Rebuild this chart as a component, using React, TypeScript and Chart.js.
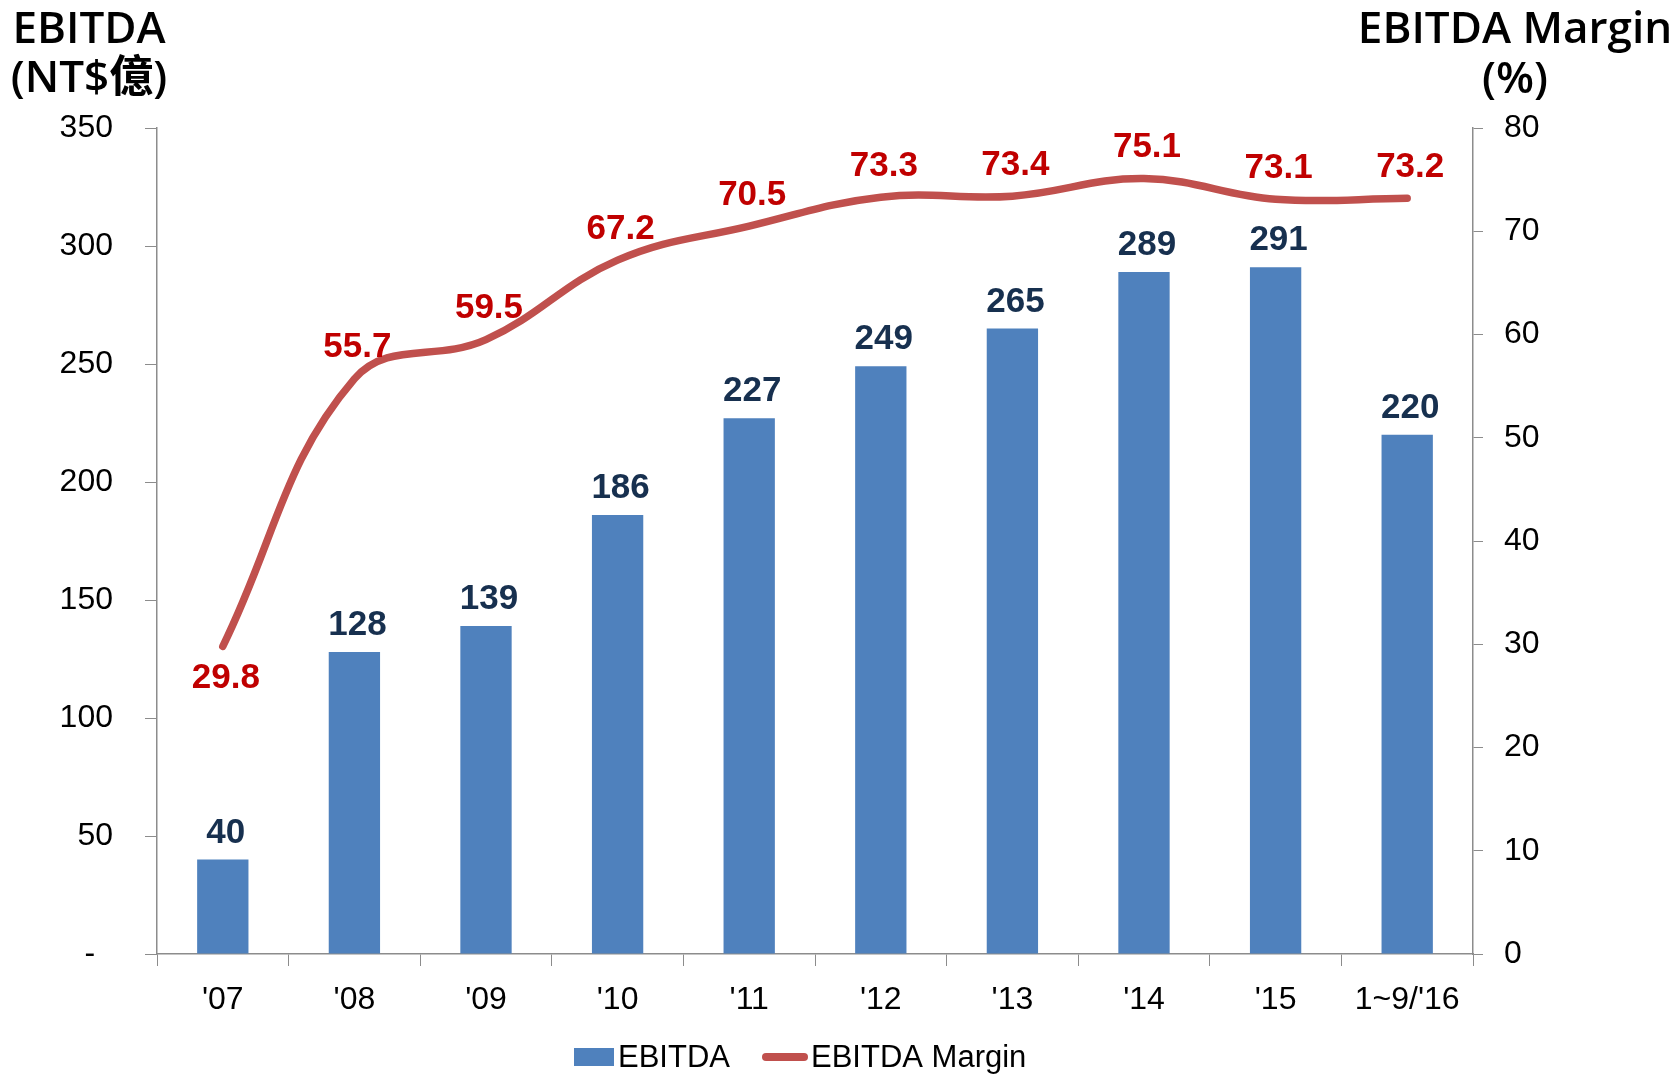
import React, { useEffect, useRef } from "react";
import { Chart, registerables } from "chart.js";

Chart.register(...registerables);

const categories = ["'07", "'08", "'09", "'10", "'11", "'12", "'13", "'14", "'15", "1~9/'16"];
const ebitda = [40, 128, 139, 186, 227, 249, 265, 289, 291, 220];
const margin = [29.8, 55.7, 59.5, 67.2, 70.5, 73.3, 73.4, 75.1, 73.1, 73.2];
const leftTicks = [0, 50, 100, 150, 200, 250, 300, 350];
const rightTicks = [0, 10, 20, 30, 40, 50, 60, 70, 80];

const W = 1678;
const H = 1077;
const TICK_FONT = "'Liberation Sans', Arial, sans-serif";
const TITLE_FONT = "'Open Sans', 'Noto Sans', 'Noto Sans CJK TC', sans-serif";
const AXIS_COLOR = "#8c8c8c";
const BAR_COLOR = "#4F81BD";
const LINE_COLOR = "#C0504D";

const labelsPlugin = {
  id: "customLabels",
  afterDatasetsDraw(chart: any) {
    const ctx = chart.ctx;
    ctx.save();
    ctx.textAlign = "center";
    ctx.textBaseline = "alphabetic";
    ctx.font = `bold 35px ${TICK_FONT}`;
    const barMeta = chart.getDatasetMeta(0);
    ctx.fillStyle = "#17304F";
    barMeta.data.forEach((el: any, i: number) => {
      ctx.fillText(String(ebitda[i]), el.x + 3, el.y - 17);
    });
    const lineMeta = chart.getDatasetMeta(1);
    ctx.fillStyle = "#C00000";
    lineMeta.data.forEach((el: any, i: number) => {
      const y = i === 0 ? el.y + 42 : el.y - 21.5;
      ctx.fillText(margin[i].toFixed(1), el.x + 3, y);
    });
    ctx.restore();
  },
  afterDraw(chart: any) {
    const ctx = chart.ctx;
    ctx.save();
    // axis titles
    ctx.fillStyle = "#000";
    ctx.textAlign = "center";
    ctx.textBaseline = "alphabetic";
    ctx.font = `600 44px ${TITLE_FONT}`;
    ctx.fillText("EBITDA", 89, 43);
    ctx.fillText("(NT$億)", 89, 92);
    ctx.fillText("EBITDA Margin", 1515, 43);
    ctx.fillText("(%)", 1515, 93);
    // legend
    ctx.font = `31px ${TICK_FONT}`;
    ctx.textAlign = "left";
    ctx.fillStyle = BAR_COLOR;
    ctx.fillRect(574, 1048, 40, 18);
    ctx.fillStyle = "#000";
    ctx.fillText("EBITDA", 618, 1067);
    ctx.strokeStyle = LINE_COLOR;
    ctx.lineWidth = 8;
    ctx.lineCap = "round";
    ctx.beginPath();
    ctx.moveTo(766, 1057);
    ctx.lineTo(804, 1057);
    ctx.stroke();
    ctx.fillStyle = "#000";
    ctx.fillText("EBITDA Margin", 811, 1067);
    ctx.restore();
  },
};

export default function App() {
  const ref = useRef<HTMLCanvasElement | null>(null);

  useEffect(() => {
    if (!ref.current) return;
    const chart = new Chart(ref.current, {
      type: "bar",
      data: {
        labels: categories,
        datasets: [
          {
            type: "bar",
            label: "EBITDA",
            data: ebitda,
            yAxisID: "y",
            backgroundColor: BAR_COLOR,
            barPercentage: 0.39,
            categoryPercentage: 1,
            order: 1,
          },
          {
            type: "line",
            label: "EBITDA Margin",
            data: margin,
            yAxisID: "y1",
            borderColor: LINE_COLOR,
            backgroundColor: LINE_COLOR,
            borderWidth: 7.5,
            pointRadius: 0,
            tension: 0.4,
            borderCapStyle: "round",
            borderJoinStyle: "round",
            order: 0,
          },
        ] as any,
      },
      options: {
        responsive: false,
        animation: false,
        devicePixelRatio: 1,
        layout: { padding: { top: 128, left: 0, right: 0, bottom: 0 } },
        plugins: {
          legend: { display: false },
          tooltip: { enabled: false },
          title: { display: false },
        },
        scales: {
          x: {
            type: "category",
            grid: {
              offset: true,
              drawOnChartArea: false,
              drawTicks: true,
              tickLength: 12,
              color: AXIS_COLOR,
            },
            border: { color: AXIS_COLOR, width: 1.5 },
            ticks: {
              color: "#000",
              font: { family: TICK_FONT, size: 32 },
              padding: 15,
              maxRotation: 0,
              autoSkip: false,
            },
            afterFit: (s: any) => {
              s.height = 123;
            },
          },
          y: {
            position: "left",
            min: 0,
            max: 350,
            afterBuildTicks: (s: any) => {
              s.ticks = leftTicks.map((v) => ({ value: v }));
            },
            grid: {
              drawOnChartArea: false,
              drawTicks: true,
              tickLength: 12,
              color: AXIS_COLOR,
            },
            border: { color: AXIS_COLOR, width: 1.5 },
            ticks: {
              color: "#000",
              font: { family: TICK_FONT, size: 32 },
              padding: 32,
              callback: (v: any) => (Number(v) === 0 ? "-  " : String(v)),
            },
            afterFit: (s: any) => {
              s.width = 157;
            },
          },
          y1: {
            position: "right",
            min: 0,
            max: 80,
            afterBuildTicks: (s: any) => {
              s.ticks = rightTicks.map((v) => ({ value: v }));
            },
            grid: {
              drawOnChartArea: false,
              drawTicks: true,
              tickLength: 10,
              color: AXIS_COLOR,
            },
            border: { color: AXIS_COLOR, width: 1.5 },
            ticks: {
              color: "#000",
              font: { family: TICK_FONT, size: 32 },
              padding: 21,
            },
            afterFit: (s: any) => {
              s.width = W - 1473;
            },
          },
        },
      } as any,
      plugins: [labelsPlugin],
    });
    return () => chart.destroy();
  }, []);

  return (
    <div style={{ position: "absolute", left: 0, top: 0, width: W, height: H, background: "#fff" }}>
      <canvas ref={ref} width={W} height={H} style={{ width: W, height: H, display: "block" }} />
    </div>
  );
}
